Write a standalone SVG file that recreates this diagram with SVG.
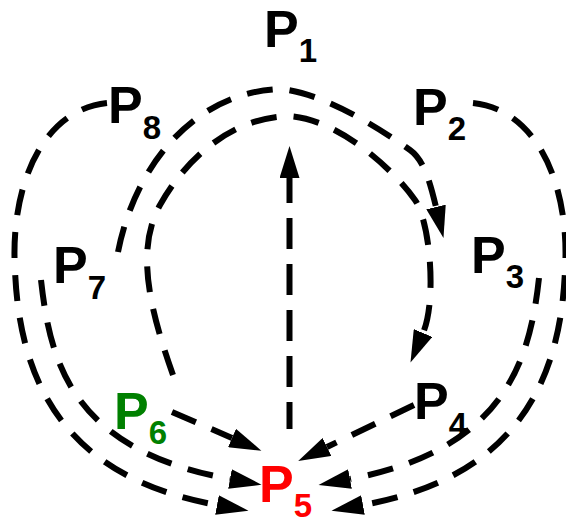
<svg xmlns="http://www.w3.org/2000/svg" width="566" height="523" viewBox="0 0 566 523">
<style>
.c{fill:none;stroke:#000;stroke-width:6;stroke-dasharray:26 17;marker-end:url(#ah)}
.v{stroke-dasharray:31 15;stroke-dashoffset:4}
.lbl{font-family:"Liberation Sans",Arial,sans-serif;font-weight:bold;font-size:52px;fill:#000}
.sub{font-size:33px}
</style>
<defs>
<marker id="ah" markerUnits="userSpaceOnUse" markerWidth="33" markerHeight="20" refX="0" refY="10" orient="auto">
<path d="M0,0 L32,10 L0,20 z" fill="#000"/>
</marker>
</defs>
<g id="connectors">
<path class="c v" d="M289.5,429 L289.5,178"/>
<path class="c" d="M118,252 C135,165 195,92 280,89 C320,92 375,125 410,150 C424,160 430,182 436,207"/>
<path class="c" d="M173,375 C150,310 135,250 160,205 C185,160 230,118 288,116 C335,118 390,165 415,200 C430,221 437,300 423,333"/>
<path class="c" d="M107,103 C40,110 10,190 15,270 C20,400 80,480 217,505"/>
<path class="c" d="M41,280 C50,360 70,450 230,479"/>
<path class="c" d="M473,103 C540,110 570,190 565,270 C560,400 500,480 363,505"/>
<path class="c" d="M539,278 C530,360 505,450 350,479"/>
<path class="c" d="M172,412 L232,438"/>
<path class="c" d="M414,405 L327,447"/>
</g>
<g id="P1"><text class="lbl" x="264" y="47">P<tspan class="sub" dy="15">1</tspan></text></g>
<g id="P2"><text class="lbl" x="413" y="125">P<tspan class="sub" dy="15">2</tspan></text></g>
<g id="P3"><text class="lbl" x="471" y="273">P<tspan class="sub" dy="15">3</tspan></text></g>
<g id="P4"><text class="lbl" x="414" y="419">P<tspan class="sub" dy="17">4</tspan></text></g>
<g id="P5"><text class="lbl" x="259" y="502" style="fill:#ff0000">P<tspan class="sub" dy="15">5</tspan></text></g>
<g id="P6"><text class="lbl" x="114" y="429" style="fill:#008000">P<tspan class="sub" dy="15">6</tspan></text></g>
<g id="P7"><text class="lbl" x="53" y="283">P<tspan class="sub" dy="16">7</tspan></text></g>
<g id="P8"><text class="lbl" x="108" y="123">P<tspan class="sub" dy="16">8</tspan></text></g>
</svg>
